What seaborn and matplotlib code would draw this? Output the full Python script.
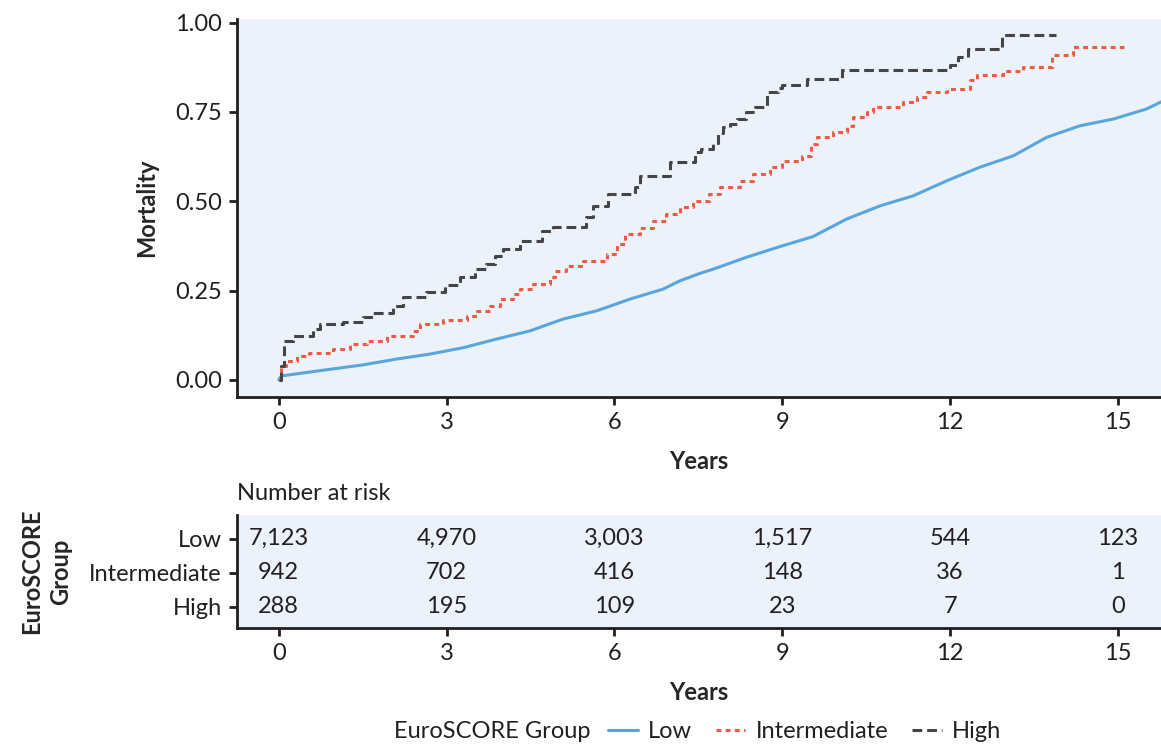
import numpy as np
import pandas as pd
import matplotlib as mpl
mpl.use('Agg')
import matplotlib.pyplot as plt
import seaborn as sns
from matplotlib.lines import Line2D

################################################################################
# DATA
################################################################################

groups = ['Low', 'Intermediate', 'High']

low_years = [0, 0.05, 0.61, 1.51, 2.1, 2.7, 3.3, 3.89, 4.49, 5.08, 5.68, 6.28, 6.87,
             7.17, 7.53, 7.77, 8.36, 8.96, 9.55, 10.15, 10.75, 11.34, 11.94, 12.53,
             13.13, 13.73, 14.32, 14.92, 15.51, 15.8]
low_mortality = [0, 0.011, 0.023, 0.042, 0.058, 0.072, 0.09, 0.114, 0.137, 0.17, 0.193,
                 0.226, 0.254, 0.277, 0.298, 0.31, 0.343, 0.373, 0.401, 0.45, 0.487,
                 0.515, 0.557, 0.595, 0.627, 0.679, 0.711, 0.73, 0.758, 0.78]

int_years = [0, 0.05, 0.13, 0.32, 0.55, 0.97, 1.27, 1.57, 1.93, 2.4, 2.52, 2.93, 3.36,
             3.54, 3.77, 3.95, 4.19, 4.31, 4.54, 4.85, 4.93, 5.14, 5.44, 5.86, 6.04,
             6.19, 6.45, 6.69, 6.93, 7.17, 7.4, 7.7, 7.88, 8.24, 8.48, 8.78, 9.0, 9.35,
             9.52, 9.62, 9.9, 10.15, 10.27, 10.51, 10.63, 11.16, 11.4, 11.59, 11.94,
             12.35, 12.48, 12.95, 13.3, 13.82, 14.2, 15.1]
int_mortality = [0, 0.039, 0.053, 0.067, 0.076, 0.086, 0.1, 0.109, 0.123, 0.137, 0.156,
                 0.167, 0.179, 0.193, 0.207, 0.226, 0.24, 0.254, 0.268, 0.287, 0.305,
                 0.319, 0.333, 0.352, 0.38, 0.408, 0.426, 0.445, 0.464, 0.483, 0.501,
                 0.52, 0.539, 0.557, 0.576, 0.595, 0.613, 0.627, 0.66, 0.679, 0.693,
                 0.711, 0.735, 0.749, 0.763, 0.777, 0.791, 0.805, 0.814, 0.838, 0.854,
                 0.864, 0.875, 0.909, 0.931, 0.931]

high_years = [0, 0.05, 0.1, 0.26, 0.61, 0.73, 1.15, 1.51, 1.69, 2.04, 2.22, 2.64, 2.97,
              3.24, 3.5, 3.71, 3.86, 4.01, 4.31, 4.7, 4.9, 5.5, 5.62, 5.89, 6.37, 6.45,
              6.99, 7.44, 7.55, 7.77, 7.85, 7.94, 8.06, 8.2, 8.36, 8.51, 8.72, 8.92,
              9.0, 9.44, 10.07, 12.0, 12.14, 12.32, 12.92, 13.9]
high_mortality = [0, 0.04, 0.11, 0.123, 0.143, 0.156, 0.163, 0.176, 0.187, 0.207, 0.232,
                  0.247, 0.266, 0.287, 0.31, 0.324, 0.347, 0.366, 0.389, 0.417, 0.429,
                  0.455, 0.487, 0.52, 0.539, 0.571, 0.609, 0.637, 0.646, 0.664, 0.692,
                  0.707, 0.716, 0.731, 0.749, 0.765, 0.805, 0.818, 0.826, 0.842, 0.866,
                  0.882, 0.903, 0.926, 0.964, 0.964]

risk_years = [0, 3, 6, 9, 12, 15]
risk_low = [7123, 4970, 3003, 1517, 544, 123]
risk_int = [942, 702, 416, 148, 36, 1]
risk_high = [288, 195, 109, 23, 7, 0]

################################################################################
# STYLE
################################################################################

sns.set_theme(style='ticks')
plt.rcParams['font.family'] = ['Lato', 'DejaVu Sans']
plt.rcParams['axes.edgecolor'] = '#231f20'
plt.rcParams['axes.linewidth'] = 2.0
plt.rcParams['xtick.color'] = '#231f20'
plt.rcParams['ytick.color'] = '#231f20'
plt.rcParams['text.color'] = '#231f20'

fs = 17
bg = '#ebf2fa'
colors = {'Low': '#5aa6dc', 'Intermediate': '#f15a42', 'High': '#454545'}
styles = {'Low': '-', 'Intermediate': (0, (1.6, 1.4)), 'High': (0, (3.2, 1.6))}
steps = {'Low': None, 'Intermediate': 'steps-post', 'High': 'steps-post'}

curves = {
    'Low': pd.DataFrame({'Years': low_years, 'Mortality': low_mortality}),
    'Intermediate': pd.DataFrame({'Years': int_years, 'Mortality': int_mortality}),
    'High': pd.DataFrame({'Years': high_years, 'Mortality': high_mortality}),
}

fig = plt.figure(figsize=(11.61, 7.44), dpi=100)
ax = fig.add_axes([0.2041, 0.4664, 0.7959, 0.5081])
ax_t = fig.add_axes([0.2041, 0.1559, 0.7959, 0.1519])

################################################################################
# SURVIVAL CURVES
################################################################################

for g in groups:
    kw = dict(color=colors[g], linestyle=styles[g], linewidth=2.2)
    if steps[g]:
        kw['drawstyle'] = steps[g]
    sns.lineplot(data=curves[g], x='Years', y='Mortality', ax=ax,
                 estimator=None, sort=False, **kw)

ax.set_facecolor(bg)
ax.set_xlim(-0.746, 15.77)
ax.set_ylim(-0.048, 1.01)
ax.set_xticks(risk_years)
ax.set_yticks([0, 0.25, 0.5, 0.75, 1.0])
ax.set_yticklabels(['0.00', '0.25', '0.50', '0.75', '1.00'])
ax.tick_params(labelsize=fs, width=2, length=6, pad=5)
ax.set_xlabel('Years', fontsize=fs, fontweight='bold', labelpad=12)
ax.set_ylabel('Mortality', fontsize=fs, fontweight='bold', labelpad=12)
sns.despine(ax=ax)

################################################################################
# NUMBER AT RISK TABLE
################################################################################

ax_t.set_facecolor(bg)
for row, vals in enumerate([risk_low, risk_int, risk_high]):
    for yr, v in zip(risk_years, vals):
        ax_t.text(yr, row, '{:,}'.format(v), ha='center', va='center', fontsize=fs)
ax_t.set_xlim(-0.746, 15.77)
ax_t.set_ylim(2.62, -0.7)
ax_t.set_xticks(risk_years)
ax_t.set_yticks([0, 1, 2])
ax_t.set_yticklabels(groups)
ax_t.tick_params(labelsize=fs, width=2, length=6, pad=5)
ax_t.set_xlabel('Years', fontsize=fs, fontweight='bold', labelpad=12)
ax_t.set_ylabel('EuroSCORE\nGroup', fontsize=fs, fontweight='bold', linespacing=1.35)
ax_t.yaxis.set_label_coords(-0.178, 0.5)
sns.despine(ax=ax_t)
fig.text(0.2041, 1 - 493 / 744, 'Number at risk', fontsize=fs, va='center', ha='left')

################################################################################
# LEGEND
################################################################################

handles = [Line2D([], [], color=colors[g], linestyle=styles[g], linewidth=2.2) for g in groups]
fig.text(590 / 1161, 1 - 732 / 744, 'EuroSCORE Group', fontsize=fs, ha='right', va='center')
fig.legend(handles, groups, loc='center left', bbox_to_anchor=(608 / 1161, 1 - 732 / 744),
           ncol=3, frameon=False, fontsize=fs, handlelength=1.25, columnspacing=1.0,
           handletextpad=0.45, borderpad=0, borderaxespad=0)

fig.savefig('out.png', dpi=100)
